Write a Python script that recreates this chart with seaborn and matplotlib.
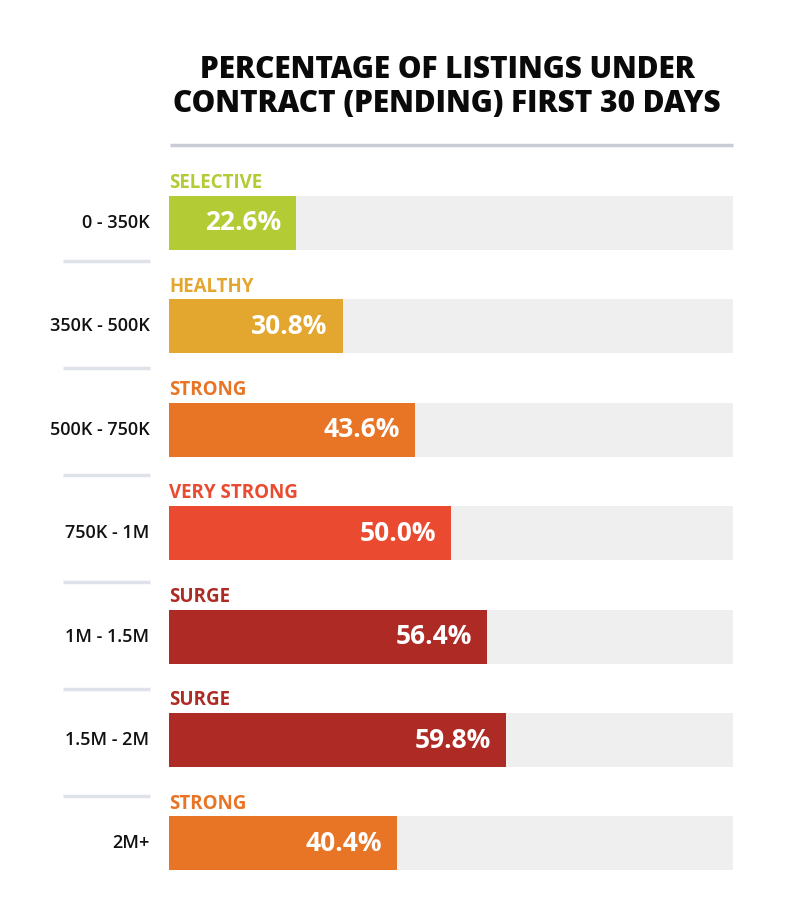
import matplotlib
matplotlib.use("Agg")
import matplotlib.pyplot as plt
from matplotlib.lines import Line2D
import seaborn as sns
import pandas as pd

price_ranges = ["0 - 350K", "350K - 500K", "500K - 750K", "750K - 1M", "1M - 1.5M", "1.5M - 2M", "2M+"]
pending_pct = [22.6, 30.8, 43.6, 50.0, 56.4, 59.8, 40.4]
market_labels = ["SELECTIVE", "HEALTHY", "STRONG", "VERY STRONG", "SURGE", "SURGE", "STRONG"]
bar_colors = ["#B3CB35", "#E3A72F", "#E87526", "#EA4A2F", "#AE2B25", "#AE2B25", "#E87526"]
full_scale = [100.0] * len(price_ranges)
title_lines = ["PERCENTAGE OF LISTINGS UNDER", "CONTRACT (PENDING) FIRST 30 DAYS"]

sns.set_theme(style="white")
plt.rcParams["font.family"] = ["Open Sans", "DejaVu Sans"]

df = pd.DataFrame({"range": price_ranges, "pct": pending_pct, "full": full_scale})

W, H = 800, 923
fig = plt.figure(figsize=(W / 100, H / 100), dpi=100)
fig.patch.set_facecolor("white")

step = 103.4
c0 = 223
top_px = c0 - step / 2
bot_px = c0 + 6 * step + step / 2
ax = fig.add_axes([169 / W, 1 - bot_px / H, (733 - 169) / W, (bot_px - top_px) / H])

bw = 54 / step
sns.barplot(data=df, x="full", y="range", color="#EFEFEF", width=bw, ax=ax,
            saturation=1, orient="h")
sns.barplot(data=df, x="pct", y="range", hue="range", palette=bar_colors, width=bw,
            ax=ax, saturation=1, orient="h", legend=False, dodge=False)
for p in ax.patches:
    p.set_linewidth(0)

ax.set_xlim(0, 100)
ax.set_ylim(6.5, -0.5)
ax.set_xlabel("")
ax.set_ylabel("")
ax.set_xticks([])
ax.set_yticks([])
for s in ax.spines.values():
    s.set_visible(False)

for i, (rng, val, lab, col) in enumerate(zip(price_ranges, pending_pct, market_labels, bar_colors)):
    # value label inside bar
    ax.annotate(f"{val:.1f}%", xy=(val, i), xytext=(-11, 0), textcoords="offset points",
                ha="right", va="center", color="white", fontsize=19, fontweight="bold")
    # market label above bar
    ax.annotate(lab, xy=(0, i - bw / 2), xytext=(0, 2), textcoords="offset points",
                ha="left", va="bottom", color=col, fontsize=13.5, fontweight="bold")
    # price range on the left
    ax.annotate(rng, xy=(0, i), xytext=(-14, 0), textcoords="offset points",
                ha="right", va="center", color="#111111", fontsize=13, fontweight="semibold")

# separators on the left
sep_y = [261, 368, 475, 582, 689, 796]
for y in sep_y:
    fig.add_artist(Line2D([63 / W, 150 / W], [1 - y / H, 1 - y / H], color="#DFE2E8", lw=2.5,
                          solid_capstyle="butt"))

# title rule
fig.add_artist(Line2D([170 / W, 733 / W], [1 - 145 / H, 1 - 145 / H], color="#C8CDD5", lw=2.5,
                      solid_capstyle="butt"))

fig.text(447 / W, 1 - 70 / H, title_lines[0], ha="center", va="center", fontsize=21.4,
         fontweight="heavy", color="#0A0A0A")
fig.text(447 / W, 1 - 104 / H, title_lines[1], ha="center", va="center", fontsize=21.4,
         fontweight="heavy", color="#0A0A0A")

fig.savefig("out.png", dpi=100, facecolor="white")
